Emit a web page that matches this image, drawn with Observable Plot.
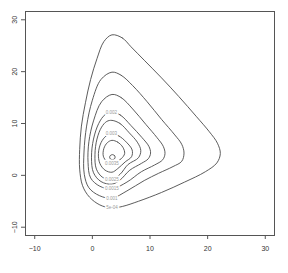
<!DOCTYPE html>
<html><head><meta charset="utf-8">
<script src="https://cdn.jsdelivr.net/npm/d3@7"></script>
<script src="https://cdn.jsdelivr.net/npm/@observablehq/plot@0.6"></script>
<style>body{margin:0;background:#fff}</style>
</head><body><div id="chart"></div>
<script>
// contour levels and traced outlines (data coordinates)
const levels = ["5e-04","0.001","0.0015","0.002","0.0025","0.003","0.0035","0.004"];
const c1 = [[3.4,27.1],[5.2,26.5],[6.7,24.8],[9,22.2],[12,18.8],[15,15.2],[18,11.4],[20.3,8.4],[21.7,6.2],[22.2,4.2],[21.6,2.4],[19.6,0.7],[16,-1.3],[12,-3.3],[8,-5.0],[5.2,-6.0],[3.3,-6.3],[1.3,-5.7],[-0.5,-4.2],[-1.7,-2.0],[-2.2,1.2],[-2.2,5],[-1.9,9.5],[-1.2,14],[-0.3,18.5],[0.8,22.5],[2.0,25.8]];
const c2 = [[3.4,19.9],[5,19.3],[7,17.3],[9.5,14.2],[12,10.8],[14.3,7.8],[15.5,6.0],[15.9,4.3],[15.5,2.7],[14.0,1.7],[11.5,0.4],[9,-1.0],[6,-3.0],[3.4,-4.4],[1.2,-3.9],[-0.6,-2.4],[-1.4,0.2],[-1.45,4.5],[-1.0,9.5],[0,14.5],[1.5,18.5]];
const c3 = [[3.4,15.6],[5,15.0],[7,12.8],[9.3,9.8],[11.2,7.3],[12.3,5.6],[12.6,4.2],[12.2,3.0],[10.8,2.0],[8.5,0.7],[6,-1.3],[3.4,-2.6],[1.3,-2.1],[-0.3,-0.5],[-0.75,2.5],[-0.6,6.5],[0.2,10.5],[1.6,14.2]];
const c4 = [[3.4,12.2],[4.9,11.6],[6.7,9.6],[8.6,7.3],[9.8,5.6],[10.1,4.3],[9.7,3.2],[8.5,2.3],[6.5,1.0],[4.8,-0.9],[3.4,-1.7],[1.5,-1.2],[0.2,0.5],[-0.15,3.5],[0.2,7],[1.1,10],[2.2,11.7]];
const c5 = [[3.4,10.6],[4.8,10.0],[6.4,8.2],[7.8,6.4],[8.4,4.8],[8.0,3.4],[6.2,2.1],[4.8,0.2],[3.4,-0.8],[1.8,-0.4],[0.7,1.2],[0.45,4],[0.8,7],[1.6,9.3],[2.5,10.4]];
const c6 = [[3.4,8.0],[4.6,7.6],[5.9,6.4],[6.9,4.9],[6.8,3.6],[5.7,2.6],[4.4,1.3],[3.4,0.6],[2.2,1.0],[1.3,2.3],[1.05,4.2],[1.5,6.3],[2.4,7.6]];
const c7 = [[3.4,6.75],[4.4,6.4],[5.3,5.4],[5.6,4.2],[5.0,3.2],[4.1,2.6],[3.4,2.4],[2.5,2.7],[1.9,3.7],[2.0,5.2],[2.6,6.3]];
const c8 = [[3.48,4.0],[3.85,3.8],[3.95,3.5],[3.8,3.15],[3.48,3.05],[3.15,3.15],[3.0,3.5],[3.1,3.8]];
const outlines = [c1,c2,c3,c4,c5,c6,c7,c8];
// label positions
const labelText = ["0.002","0.003","0.0035","0.0025","0.0015","0.001","5e-04"];
const labelX = [3.3,3.3,3.4,3.4,3.4,3.4,3.4];
const labelY = [12.2,8.0,2.3,-0.8,-2.6,-4.4,-6.25];
const xTicks = [-10,0,10,20,30];
const yTicks = [-10,0,10,20,30];

const rows = outlines.flatMap((pts,i)=>pts.map(([x,y])=>({x,y,level:levels[i]})));
const labels = labelText.map((t,i)=>({t,x:labelX[i],y:labelY[i]}));

const chart = Plot.plot({
  width: 288, height: 273,
  marginLeft: 25, marginRight: 14, marginTop: 11, marginBottom: 38,
  style: {fontFamily: "Liberation Sans, Arial, sans-serif", background: "#fff"},
  x: {domain: [-11.6, 31.6]},
  y: {domain: [-11.6, 31.6]},
  marks: [
    Plot.line(rows, {x:"x", y:"y", z:"level", curve:"catmull-rom-closed", stroke:"#4a4a4a", strokeWidth:0.9}),
    Plot.text(labels, {x:"x", y:"y", text:"t", fontSize:4.5, fill:"#9a9a9a", stroke:"white", strokeWidth:3, paintOrder:"stroke"}),
    Plot.frame({stroke:"#555", strokeWidth:1}),
    Plot.axisX({ticks:xTicks, tickSize:4, tickPadding:7, fontSize:7, color:"#333", label:null, stroke:"#555"}),
    Plot.axisY({ticks:yTicks, tickSize:4, tickPadding:5, tickRotate:-90, fontSize:7, color:"#333", label:null, stroke:"#555"})
  ]
});
document.getElementById("chart").appendChild(chart);
</script></body></html>
